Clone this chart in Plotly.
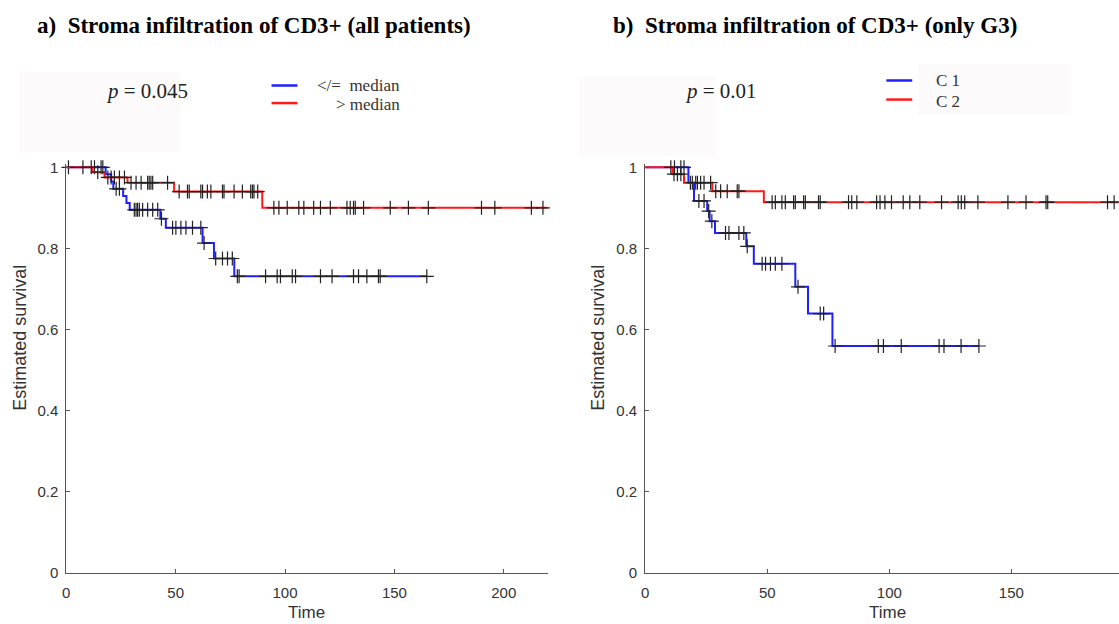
import numpy as np
import plotly.graph_objects as go

# ---------------- data ----------------
# Panel a) all patients
a_low_event_t = [18, 20.5, 21.5, 26, 27.5, 29, 43, 45.5, 62.3, 67.5, 76.8]
a_low_event_s = [0.983, 0.965, 0.947, 0.929, 0.912, 0.895, 0.873, 0.851, 0.813, 0.775, 0.731]
a_low_end = 164.8
a_low_cens = [12.9, 15.9, 16.7, 22.8, 24.3, 31.1, 31.9, 32.6, 33.4, 34.9, 37.2, 39.5, 41.8,
              43.5, 48.6, 50.1, 52.4, 54.7, 57.7, 61.5, 63, 68.3, 71.4, 73.7, 75.9, 78.2, 79,
              91.1, 96.4, 97.9, 103.3, 104.8, 116.2, 121.5, 131.3, 133.6, 137.4, 142.7, 143.5, 164.8]
a_high_event_t = [12, 17.5, 28, 49.3, 89.6]
a_high_event_s = [0.988, 0.975, 0.962, 0.94, 0.90]
a_high_end = 220
a_high_cens = [1, 7.6, 11.4, 14.4, 19, 20.5, 22, 24.3, 26.6, 29.6, 31.9, 34.2, 37.2, 37.9, 38.7,
               39.5, 46.3, 51.6, 55.4, 56.2, 61.5, 62.3, 64.5, 66.1, 71.4, 72.1, 76.7, 80.5, 84.3,
               85.1, 85.8, 87.5, 94.9, 97.2, 101, 106.3, 108.6, 113.1, 116.2, 120.7, 128.3, 129.8,
               131.3, 132.1, 135.9, 148.1, 156.4, 165.5, 189.8, 195.9, 212.6, 217.9]

# Panel b) only G3
b_c1_event_t = [17.7, 20, 25.4, 26.4, 28.6, 41.4, 44.5, 61.5, 66.7, 76.7]
b_c1_event_s = [0.962, 0.917, 0.892, 0.867, 0.838, 0.805, 0.762, 0.705, 0.639, 0.559]
b_c1_end = 136.7
b_c1_cens = [12, 14.6, 15.9, 18.5, 22, 24.1, 26, 27.3, 32.9, 34.3, 38.4, 40.4, 41.8, 47.9, 49.3,
             51.3, 53.3, 56, 62.6, 71.7, 73.1, 77.8, 95.5, 97.6, 104.9, 120.4, 122.4, 129.4, 136.7]
b_c2_event_t = [11.2, 15.9, 27.5, 48.6]
b_c2_event_s = [0.983, 0.962, 0.941, 0.914]
b_c2_end = 194
b_c2_cens = [10.5, 11.8, 13.2, 14.6, 19.3, 20.7, 21.4, 22.7, 24.1, 26.8, 28.9, 30.9, 33.6, 37.7,
             38.4, 52, 53.3, 56, 57.4, 60.8, 61.5, 64.9, 65.6, 71, 71.7, 83.3, 84.6, 86.7, 94.8,
             96.2, 98.2, 100.9, 105.7, 108.4, 112.5, 121.4, 128.2, 129.5, 130.9, 136.3, 148.6,
             156, 164.2, 164.9, 189.4, 192.1]

y_ticks = [0, 0.2, 0.4, 0.6, 0.8, 1]
a_x_ticks = [0, 50, 100, 150, 200]
b_x_ticks = [0, 50, 100, 150]

titles = ["a)\u00a0\u00a0Stroma infiltration of CD3+ (all patients)",
          "b)\u00a0\u00a0Stroma infiltration of CD3+ (only G3)"]
p_values = ["0.045", "0.01"]
a_legend = ["&lt;/=\u00a0\u00a0median", ">\u00a0median"]
b_legend = ["C\u00a01", "C\u00a02"]

BLUE = "#1f1fff"
RED = "#ff1a1a"
W, H = 1119, 640


def X(x):
    # page x (pixels) -> paper fraction
    return (x - 2.5) / W


def Y(y):
    # page y (pixels from top) -> paper fraction
    return 1 - ((y - 7.25) / 0.975) / H


def step_curve(et, es, end):
    return [0] + list(et) + [end], [1.0] + list(es) + [es[-1]]


def step_value(et, es, tc):
    t = np.array([0] + list(et))
    s = np.array([1.0] + list(es))
    idx = np.searchsorted(t, np.array(tc), side="right") - 1
    return s[idx]


fig = go.Figure()


def add_group(et, es, end, cens, color, xa, ya):
    t, s = step_curve(et, es, end)
    fig.add_trace(go.Scatter(x=t, y=s, mode="lines", line=dict(color=color, width=2, shape="hv"),
                             xaxis=xa, yaxis=ya, showlegend=False, cliponaxis=False, hoverinfo="skip"))
    fig.add_trace(go.Scatter(x=cens, y=step_value(et, es, cens), mode="markers",
                             marker=dict(symbol="cross-thin", size=10, line=dict(color="#222222", width=1.2)),
                             xaxis=xa, yaxis=ya, showlegend=False, cliponaxis=False, hoverinfo="skip"))


add_group(a_low_event_t, a_low_event_s, a_low_end, a_low_cens, BLUE, "x", "y")
add_group(a_high_event_t, a_high_event_s, a_high_end, a_high_cens, RED, "x", "y")
add_group(b_c1_event_t, b_c1_event_s, b_c1_end, b_c1_cens, BLUE, "x2", "y2")
add_group(b_c2_event_t, b_c2_event_s, b_c2_end, b_c2_cens, RED, "x2", "y2")

tickfont = dict(family="Liberation Sans, Arial", size=15, color="#333333")
axis_common = dict(showgrid=False, zeroline=False, showline=True, linecolor="#555555", linewidth=1,
                   ticks="inside", ticklen=4, tickcolor="#555555", tickfont=tickfont)
y_dom = [Y(572), Y(165)]
fig.update_layout(
    width=W, height=H, margin=dict(l=0, r=0, t=0, b=0),
    paper_bgcolor="white", plot_bgcolor="white", showlegend=False,
    xaxis=dict(domain=[X(65), X(548)], range=[0, 220], tickvals=a_x_ticks, anchor="y",
               ticklabelstandoff=6, **axis_common),
    yaxis=dict(domain=y_dom, range=[0, 1.0075], tickvals=y_ticks, anchor="x",
               ticklabelstandoff=4, **axis_common),
    xaxis2=dict(domain=[X(646), 1.0], range=[0, 194.1], tickvals=b_x_ticks, anchor="y2",
                ticklabelstandoff=6, **axis_common),
    yaxis2=dict(domain=y_dom, range=[0, 1.0075], tickvals=y_ticks, anchor="x2",
                ticklabelstandoff=4, **axis_common),
)

shapes = []
# faint background boxes (as in the scanned figure)
for x0, y0, x1, y1 in [(18, 73, 179, 153), (580, 78, 716, 157), (920, 65, 1072, 115)]:
    shapes.append(dict(type="rect", xref="paper", yref="paper", x0=X(x0), x1=X(x1), y0=Y(y1), y1=Y(y0),
                       fillcolor="#fcfafa", line=dict(width=0), layer="below"))
# legend samples
for (x0, x1, y, c) in [(271, 297, 86.5, BLUE), (271, 297, 104, RED),
                       (888, 914, 81.5, BLUE), (888, 914, 100.5, RED)]:
    shapes.append(dict(type="line", xref="paper", yref="paper", x0=X(x0), x1=X(x1), y0=Y(y), y1=Y(y),
                       line=dict(color=c, width=2.5)))
fig.update_layout(shapes=shapes)

serif = "Liberation Serif, Times New Roman, serif"
sans = "Liberation Sans, Arial"
ann = [
    dict(text="<b>" + titles[0] + "</b>", x=X(33.5), y=Y(27), xanchor="left",
         font=dict(family=serif, size=23, color="black")),
    dict(text="<b>" + titles[1] + "</b>", x=X(611.5), y=Y(27), xanchor="left",
         font=dict(family=serif, size=23, color="black")),
    dict(text="<i>p</i> = " + p_values[0], x=X(102.5), y=Y(92), xanchor="left",
         font=dict(family=serif, size=21, color="#222222")),
    dict(text="<i>p</i> = " + p_values[1], x=X(683.5), y=Y(92), xanchor="left",
         font=dict(family=serif, size=21, color="#222222")),
    dict(text=a_legend[0], x=X(401.5), y=Y(86), xanchor="right",
         font=dict(family=serif, size=17, color="#333333")),
    dict(text=a_legend[1], x=X(401.5), y=Y(105.5), xanchor="right",
         font=dict(family=serif, size=17, color="#333333")),
    dict(text=b_legend[0], x=X(935.5), y=Y(81.5), xanchor="left",
         font=dict(family=serif, size=17, color="#333333")),
    dict(text=b_legend[1], x=X(935.5), y=Y(102), xanchor="left",
         font=dict(family=serif, size=17, color="#333333")),
    dict(text="Time", x=X(306.5), y=Y(612), xanchor="center",
         font=dict(family=sans, size=17, color="#333333")),
    dict(text="Time", x=X(889), y=Y(612), xanchor="center",
         font=dict(family=sans, size=17, color="#333333")),
    dict(text="Estimated survival", x=X(18.5), y=Y(338), xanchor="center", textangle=-90,
         font=dict(family=sans, size=18, color="#333333")),
    dict(text="Estimated survival", x=X(598.5), y=Y(338), xanchor="center", textangle=-90,
         font=dict(family=sans, size=18, color="#333333")),
]
for a in ann:
    a.update(xref="paper", yref="paper", showarrow=False, yanchor="middle")
fig.update_layout(annotations=ann)

fig.write_html("out.html", config={"displayModeBar": False},
               post_script="document.body.style.margin='0';document.body.style.overflow='hidden';")
